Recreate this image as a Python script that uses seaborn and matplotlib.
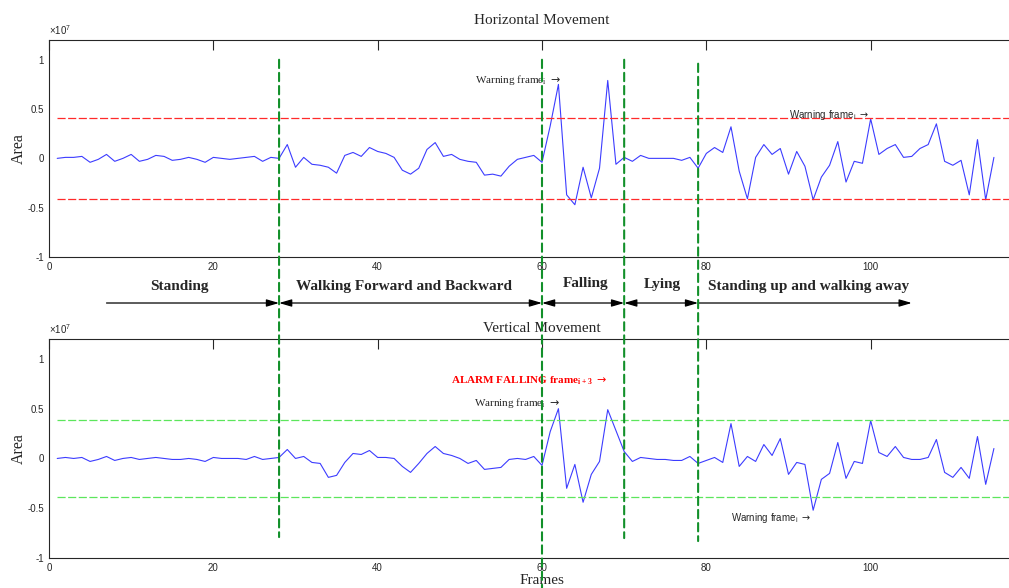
import numpy as np
import matplotlib
matplotlib.use("Agg")
import matplotlib.pyplot as plt
from matplotlib.patches import ConnectionPatch
import seaborn as sns

# ---- data (area values in units of 10^7) ----
frames = list(range(1, 116))
horizontal = [
    0.00, 0.01, 0.01, 0.02, -0.04, -0.01, 0.04, -0.03, 0.00, 0.04,
    -0.03, -0.01, 0.03, 0.02, -0.02, -0.01, 0.01, -0.01, -0.04, 0.01,
    0.00, -0.01, 0.00, 0.01, 0.02, -0.03, 0.01, 0.00, 0.14, -0.09,
    0.01, -0.06, -0.07, -0.09, -0.15, 0.03, 0.06, 0.02, 0.11, 0.07,
    0.05, 0.01, -0.12, -0.16, -0.10, 0.09, 0.16, 0.02, 0.04, -0.01,
    -0.03, -0.04, -0.17, -0.16, -0.18, -0.08, -0.01, 0.01, 0.03, -0.04,
    0.33, 0.75, -0.37, -0.47, -0.09, -0.40, -0.10, 0.79, -0.06, 0.01,
    -0.03, 0.03, 0.00, 0.00, 0.00, 0.00, -0.02, 0.01, -0.10, 0.05,
    0.11, 0.06, 0.32, -0.13, -0.41, 0.01, 0.14, 0.04, 0.10, -0.16,
    0.07, -0.08, -0.42, -0.19, -0.07, 0.17, -0.24, -0.03, -0.05, 0.40,
    0.04, 0.10, 0.14, 0.01, 0.02, 0.10, 0.14, 0.35, -0.03, -0.07,
    -0.02, -0.37, 0.19, -0.42, 0.01,
]
vertical = [
    0.00, 0.01, 0.00, 0.01, -0.03, -0.01, 0.02, -0.02, 0.00, 0.01,
    -0.01, 0.00, 0.01, 0.00, -0.01, -0.01, 0.00, -0.01, -0.03, 0.01,
    0.00, 0.00, 0.00, -0.01, 0.02, -0.01, 0.00, 0.01, 0.09, 0.00,
    0.02, -0.04, -0.05, -0.19, -0.17, -0.04, 0.05, 0.04, 0.08, 0.01,
    0.01, 0.00, -0.08, -0.14, -0.05, 0.05, 0.12, 0.05, 0.03, 0.00,
    -0.05, -0.02, -0.11, -0.10, -0.09, -0.01, 0.00, -0.01, 0.02, -0.07,
    0.27, 0.50, -0.30, -0.06, -0.44, -0.16, -0.03, 0.49, 0.28, 0.07,
    -0.03, 0.01, 0.00, -0.01, -0.01, -0.02, -0.02, 0.02, -0.05, -0.02,
    0.01, -0.04, 0.35, -0.08, 0.02, -0.03, 0.14, 0.03, 0.20, -0.16,
    -0.04, -0.06, -0.52, -0.21, -0.15, 0.16, -0.20, -0.03, -0.05, 0.38,
    0.06, 0.02, 0.12, 0.01, -0.01, -0.01, 0.01, 0.19, -0.14, -0.19,
    -0.09, -0.20, 0.22, -0.26, 0.10,
]
horizontal_threshold = 0.41
vertical_threshold = 0.39
phase_boundaries = [28, 60, 70, 79]
phase_names = ["Standing", "Walking Forward and Backward", "Falling",
               "Lying", "Standing up and walking away"]
phase_starts = [7, 28, 60, 70, 79]
phase_ends = [28, 60, 70, 79, 105]
x_ticks = [0, 20, 40, 60, 80, 100]
y_ticks = [-1, -0.5, 0, 0.5, 1]
y_tick_labels = ["-1", "-0.5", "0", "0.5", "1"]

# ---- style ----
sns.set_theme(style="white")
SERIF = ["Liberation Serif", "DejaVu Serif"]
SANS = ["Liberation Sans", "DejaVu Sans"]
plt.rcParams.update({
    "font.family": SANS,
    "axes.unicode_minus": False,
    "axes.edgecolor": "#262626",
    "axes.linewidth": 0.8,
    "xtick.direction": "in",
    "ytick.direction": "in",
    "xtick.top": True,
    "ytick.right": True,
    "xtick.major.size": 7,
    "ytick.major.size": 7,
    "xtick.major.width": 0.8,
    "ytick.major.width": 0.8,
    "xtick.major.pad": 3.5,
    "ytick.major.pad": 3.5,
    "xtick.labelsize": 7,
    "ytick.labelsize": 7,
    "xtick.color": "#262626",
    "ytick.color": "#262626",
})

BLUE = "#3c3cff"
RED = "#ff2a2a"
LIGHT_GREEN = "#5ce65c"
DARK_GREEN = "#12902a"

W, H = 1009, 588
fig = plt.figure(figsize=(W / 100, H / 100), dpi=100)
ax_h = fig.add_axes([49 / W, 1 - 257 / H, 986 / W, 217 / H])
ax_v = fig.add_axes([49 / W, 1 - 558 / H, 986 / W, 219 / H])

panels = [
    (ax_h, horizontal, horizontal_threshold, RED, "Horizontal Movement", 11.5),
    (ax_v, vertical, vertical_threshold, LIGHT_GREEN, "Vertical Movement", 5.0),
]
for ax, series, thr, thr_color, title, pad in panels:
    sns.lineplot(x=frames, y=series, ax=ax, color=BLUE, linewidth=0.8)
    ax.hlines([thr, -thr], 1, 120, colors=thr_color,
              linestyles=(0, (6.5, 2)), linewidth=0.9)
    ax.set_xlim(0, 120)
    ax.set_ylim(-1, 1.2)
    ax.set_xticks(x_ticks)
    ax.set_xticklabels([str(t) for t in x_ticks])
    ax.set_yticks(y_ticks)
    ax.set_yticklabels(y_tick_labels)
    ax.set_ylabel("Area", family=SERIF, fontsize=11.5, labelpad=0.5)
    ax.set_title(title, family=SERIF, fontsize=11, pad=pad)
    ax.text(0, 1.012, r"$\mathregular{\times 10^{7}}$", transform=ax.transAxes,
            ha="left", va="bottom", fontsize=7, family=SANS, color="#262626")
ax_h.set_xlabel("")
ax_v.set_xlabel("Frames", family=SERIF, fontsize=11, labelpad=0.5)

# phase boundaries spanning both panels
line_tops = [1.0, 1.0, 1.0, 0.96]
line_bottoms = [-0.79, -1.35, -0.80, -0.83]
for xb, top, bottom in zip(phase_boundaries, line_tops, line_bottoms):
    con = ConnectionPatch(xyA=(xb, top), coordsA=ax_h.transData,
                          xyB=(xb, bottom), coordsB=ax_v.transData,
                          color=DARK_GREEN, linewidth=1.5,
                          linestyle=(0, (4, 2.3)), zorder=5)
    fig.add_artist(con)

# phase arrows and labels between the panels
arrow_y = -0.212
arrow_styles = ["-|>", "<|-|>", "<|-|>", "<|-|>", "-|>"]
label_x = [15.9, 43.2, 65.3, 74.7, 92.4]
label_y = [-0.134, -0.134, -0.12, -0.128, -0.138]
tx = ax_h.get_xaxis_transform()
for name, start, end, style, lx, ly in zip(phase_names, phase_starts, phase_ends,
                                          arrow_styles, label_x, label_y):
    ax_h.annotate("", xy=(end, arrow_y), xytext=(start, arrow_y),
                  xycoords=tx, textcoords=tx, annotation_clip=False,
                  arrowprops=dict(arrowstyle=style + ",head_length=0.75,head_width=0.22",
                                  color="black", linewidth=0.9, mutation_scale=10,
                                  shrinkA=0, shrinkB=0))
    ax_h.text(lx, ly, name, transform=tx, ha="center", va="center",
              family=SERIF, fontsize=11, fontweight="bold", clip_on=False)

# warning / alarm annotations
ax_h.text(62.3, 0.79, r"Warning frame$_\mathregular{i}$ $\rightarrow$", ha="right", va="center",
          family=SERIF, fontsize=8)
ax_h.text(99.8, 0.44, r"Warning frame$_\mathregular{i}$ $\rightarrow$", ha="right", va="center",
          family=SANS, fontsize=7)
ax_v.text(68.0, 0.78, r"ALARM FALLING frame$_\mathregular{i+3}$ $\rightarrow$", ha="right",
          va="center", family=SERIF, fontsize=8, fontweight="bold", color="red")
ax_v.text(62.2, 0.56, r"Warning frame$_\mathregular{i}$ $\rightarrow$", ha="right", va="center",
          family=SERIF, fontsize=8)
ax_v.text(92.7, -0.60, r"Warning frame$_\mathregular{i}$ $\rightarrow$", ha="right", va="center",
          family=SANS, fontsize=7)

fig.savefig("out.png", dpi=100)
